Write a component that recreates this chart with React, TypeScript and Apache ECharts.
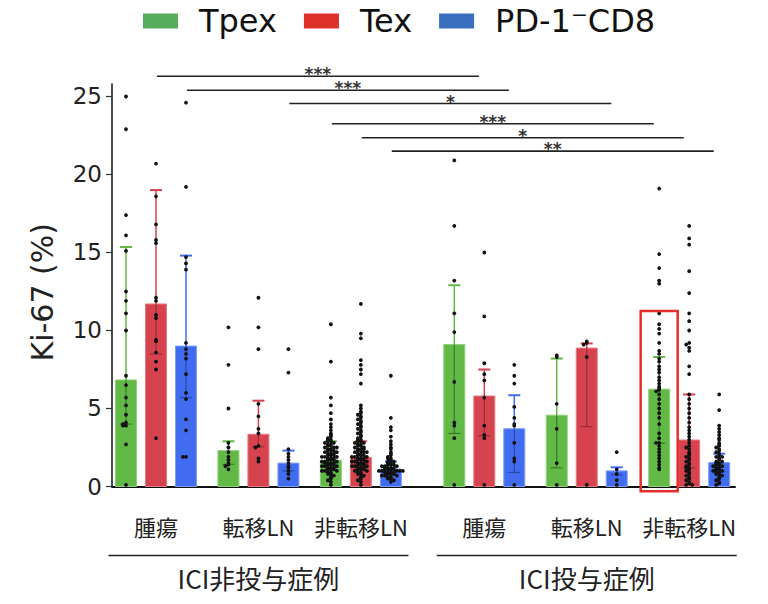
import React, { useEffect, useRef } from 'react';
import * as echarts from 'echarts';

// ---------- data ----------
const groupNames = ['腫瘍', '転移LN', '非転移LN', '腫瘍', '転移LN', '非転移LN'];
const sideNames = ['ICI非投与症例', 'ICI投与症例'];
const seriesNames = ['Tpex', 'Tex', 'PD-1⁻CD8'];
const yTicks = [0, 5, 10, 15, 20, 25];

const tpexMean = [6.83, 2.3, 1.68, 9.1, 4.57, 6.24];
const tpexLow = [4.0, 1.42, 1.1, 3.4, 1.2, 2.77];
const tpexHigh = [15.35, 2.9, 2.9, 12.9, 8.2, 8.3];

const texMean = [11.7, 3.35, 1.87, 5.8, 8.87, 2.98];
const texLow = [8.5, 2.55, 1.2, 3.26, 3.84, 1.2];
const texHigh = [19.0, 5.5, 2.9, 7.5, 9.17, 5.9];

const pdMean = [9.0, 1.5, 1.12, 3.7, 1.0, 1.53];
const pdLow = [5.7, 1.0, 0.8, 0.9, 0.75, 0.95];
const pdHigh = [14.8, 2.3, 1.6, 5.85, 1.23, 2.1];

const tpexDots = [
  [25.0, 22.9, 17.4, 16.1, 15.1, 12.5, 11.9, 11.1, 10.0, 7.1, 6.5, 5.7, 5.2, 4.6, 4.1, 4.0, 3.9, 3.9, 2.7, 0.1],
  [10.2, 7.8, 5.0, 2.8, 2.5, 2.2, 1.9, 1.7, 1.5, 1.4, 1.3, 1.1],
  [10.4, 8.0, 5.7, 5.2, 4.7, 4.3, 4.0, 3.8, 3.6, 3.4, 3.3, 3.2, 3.1, 3.0, 3.0, 2.9, 2.9, 2.8, 2.8, 2.7, 2.7, 2.6, 2.6,
    2.5, 2.5, 2.5, 2.4, 2.4, 2.3, 2.3, 2.3, 2.2, 2.2, 2.1, 2.1, 2.1, 2.0, 2.0, 2.0, 1.9, 1.9, 1.9, 1.8, 1.8, 1.8,
    1.7, 1.7, 1.7, 1.6, 1.6, 1.6, 1.5, 1.5, 1.5, 1.5, 1.4, 1.4, 1.4, 1.3, 1.3, 1.3, 1.2, 1.2, 1.2, 1.1, 1.1, 1.1,
    1.0, 1.0, 1.0, 0.9, 0.9, 0.8, 0.8, 0.7, 0.6, 0.5, 0.4, 0.3, 0.1],
  [20.9, 16.7, 13.2, 11.1, 9.9, 6.7, 4.1, 3.9, 3.1, 0.1],
  [8.4, 8.3, 5.3, 3.7, 1.5, 0.1],
  [19.1, 14.9, 14.0, 13.2, 13.0, 11.1, 10.4, 10.1, 9.8, 9.2, 8.7, 8.5, 8.2, 8.0, 7.7, 7.5, 7.3, 7.0, 6.8, 6.6, 6.4,
    6.3, 6.2, 6.1, 5.9, 5.6, 5.3, 5.0, 4.7, 4.4, 4.0, 3.4, 3.1, 2.8, 2.8, 2.6, 2.4, 2.2, 2.0, 1.8, 1.6, 1.4, 1.2, 1.1],
];

const texDots = [
  [20.7, 18.6, 16.8, 15.8, 15.6, 12.1, 11.9, 11.0, 10.8, 9.4, 9.3, 8.6, 8.0, 7.5, 3.1],
  [12.1, 10.2, 8.8, 5.3, 4.5, 3.7, 3.4, 2.6, 2.5, 1.8, 1.6],
  [11.7, 9.8, 9.5, 8.1, 7.8, 7.5, 7.2, 6.6, 5.2, 5.0, 4.8, 4.7, 4.6, 4.5, 4.4, 4.3, 4.2, 4.1, 4.0, 3.9, 3.8, 3.7,
    3.6, 3.5, 3.4, 3.3, 3.2, 3.1, 3.0, 3.0, 2.9, 2.9, 2.8, 2.8, 2.7, 2.7, 2.6, 2.6, 2.5, 2.5, 2.4, 2.4, 2.4, 2.3,
    2.3, 2.2, 2.2, 2.2, 2.1, 2.1, 2.0, 2.0, 2.0, 1.9, 1.9, 1.9, 1.8, 1.8, 1.8, 1.7, 1.7, 1.7, 1.6, 1.6, 1.6, 1.5,
    1.5, 1.5, 1.4, 1.4, 1.4, 1.3, 1.3, 1.3, 1.2, 1.2, 1.2, 1.1, 1.1, 1.1, 1.0, 1.0, 0.9, 0.9, 0.8, 0.8, 0.7, 0.6,
    0.5, 0.4, 0.3, 0.1],
  [15.0, 10.9, 7.9, 7.2, 6.8, 5.7, 3.9, 3.3, 3.1, 0.1],
  [9.3, 9.2, 9.1, 8.3, 0.1],
  [16.7, 15.9, 15.5, 13.8, 12.4, 11.1, 10.6, 10.0, 9.2, 9.1, 8.9, 8.7, 7.7, 7.2, 5.9, 5.6, 5.3, 5.0, 4.7, 4.4, 4.1,
    3.8, 3.6, 3.4, 3.2, 3.0, 2.8, 2.6, 2.5, 2.4, 2.2, 2.1, 2.0, 1.9, 1.8, 1.7, 1.6, 1.5, 1.4, 1.3, 1.2, 1.2, 1.1,
    1.0, 0.9, 0.8, 0.7, 0.6, 0.5, 0.4, 0.3, 0.2, 0.1, 0.1],
];

const pdDots = [
  [24.6, 19.2, 14.7, 14.3, 13.9, 9.2, 8.8, 8.5, 8.2, 7.2, 6.0, 5.6, 4.3, 3.6, 1.9, 1.9],
  [8.8, 7.3, 2.4, 2.1, 1.9, 1.7, 1.5, 1.3, 1.2, 1.0, 0.8, 0.5],
  [7.1, 4.4, 3.8, 3.6, 3.2, 2.9, 2.7, 2.5, 2.4, 2.2, 2.1, 2.0, 1.9, 1.8, 1.8, 1.7, 1.6, 1.6, 1.5, 1.5, 1.4, 1.4,
    1.4, 1.3, 1.3, 1.3, 1.2, 1.2, 1.2, 1.2, 1.1, 1.1, 1.1, 1.1, 1.0, 1.0, 1.0, 1.0, 1.0, 0.9, 0.9, 0.9, 0.9, 0.8,
    0.8, 0.8, 0.7, 0.7, 0.7, 0.6, 0.6, 0.5, 0.5, 0.4, 0.3],
  [7.8, 7.1, 6.6, 5.1, 4.4, 4.0, 3.9, 2.8, 1.8, 1.6, 0.1],
  [2.2, 1.1, 0.8, 0.4, 0.1],
  [5.9, 4.9, 3.9, 3.7, 3.5, 3.3, 3.1, 3.0, 2.8, 2.7, 2.6, 2.5, 2.4, 2.3, 2.2, 2.1, 2.0, 1.9, 1.9, 1.8, 1.7, 1.6,
    1.6, 1.5, 1.5, 1.4, 1.4, 1.3, 1.3, 1.2, 1.2, 1.1, 1.1, 1.0, 1.0, 0.9, 0.9, 0.8, 0.8, 0.7, 0.6, 0.5, 0.4, 0.3,
    0.2, 0.1],
];

// significance brackets: [seriesIndex, fromGroup, toGroup]
const sigPairs = [[1, 0, 3], [2, 0, 3], [2, 1, 4], [0, 2, 5], [1, 2, 5], [2, 2, 5]];
const sigLevels = [26.3, 25.4, 24.55, 23.25, 22.35, 21.5];
const sigLabels = ['***', '***', '*', '***', '*', '**'];

// highlighted bar [seriesIndex, group] and its box range
const highlightBar = [0, 5];
const highlightRange = [-0.3, 11.25];

// ---------- layout / style ----------
const X0 = 0.467;
const BAR_STEP = 1;
const GROUP_STEP = 3.415;
const SIDE_GAP = 0.7;
const X_MAX = 20.77;
const Y_MAX = 25.8;
const barX = (g: number, s: number) => X0 + g * GROUP_STEP + (g >= 3 ? SIDE_GAP : 0) + s * BAR_STEP;

const barColors = ['#62b946', '#d6434f', '#426cf0'];
const darkColors = ['#2f6d25', '#8d2631', '#243f96'];
const edgeColors = ['#8fd07c', '#e67a83', '#7f9ef5'];
const legendColors = ['#58ad5d', '#e0302a', '#3a6fc0'];
const LATIN = 'DejaVu Sans';
const CJK = 'Noto Sans CJK JP';

const means = [tpexMean, texMean, pdMean];
const lows = [tpexLow, texLow, pdLow];
const highs = [tpexHigh, texHigh, pdHigh];
const dotSets = [tpexDots, texDots, pdDots];

function buildOption() {
  const barSeries = seriesNames.map((name, s) => ({
    type: 'custom',
    name,
    z: 2,
    clip: false,
    itemStyle: { color: legendColors[s] },
    data: groupNames.map((_, g) => [barX(g, s), means[s][g], lows[s][g], highs[s][g]]),
    renderItem: (params: any, api: any) => {
      const x = api.value(0);
      const pTop = api.coord([x, api.value(1)]);
      const pBase = api.coord([x, 0]);
      const pLo = api.coord([x, api.value(2)]);
      const pHi = api.coord([x, api.value(3)]);
      const w = 21;
      const cx = pTop[0];
      return {
        type: 'group',
        children: [
          { type: 'rect', shape: { x: cx - w / 2, y: pTop[1], width: w, height: pBase[1] - pTop[1] },
            style: { fill: barColors[s], stroke: edgeColors[s], lineWidth: 1 } },
          { type: 'line', shape: { x1: cx, y1: pLo[1], x2: cx, y2: pTop[1] },
            style: { stroke: darkColors[s], lineWidth: 1.2, opacity: 0.8 } },
          { type: 'line', shape: { x1: cx - 6, y1: pLo[1], x2: cx + 6, y2: pLo[1] },
            style: { stroke: darkColors[s], lineWidth: 1.2, opacity: 0.8 } },
          { type: 'line', shape: { x1: cx, y1: pTop[1], x2: cx, y2: pHi[1] },
            style: { stroke: barColors[s], lineWidth: 1.5 } },
          { type: 'line', shape: { x1: cx - 6, y1: pHi[1], x2: cx + 6, y2: pHi[1] },
            style: { stroke: barColors[s], lineWidth: 2 } },
        ],
      };
    },
  }));

  const dotData: number[][] = [];
  dotSets.forEach((sets, s) =>
    sets.forEach((vals, g) => {
      const counts: Record<number, number> = {};
      vals.slice().sort((a, b) => b - a).forEach((v) => {
        const bin = Math.round(v / 0.15);
        const k = counts[bin] || 0;
        counts[bin] = k + 1;
        const off = k === 0 ? 0 : k % 2 === 1 ? -(k + 1) / 2 : k / 2;
        dotData.push([barX(g, s), v, off]);
      });
    })
  );

  const dotSeries = {
    type: 'custom',
    name: 'dots',
    z: 4,
    clip: false,
    data: dotData,
    renderItem: (params: any, api: any) => {
      const p = api.coord([api.value(0), api.value(1)]);
      return { type: 'circle', shape: { cx: p[0] + api.value(2) * 3, cy: p[1], r: 1.9 }, style: { fill: '#111' } };
    },
  };

  const bracketSeries = {
    type: 'custom',
    name: 'sig',
    z: 5,
    clip: false,
    data: sigPairs.map(([s, a, b], i) => [barX(a, s) + 0.03, barX(b, s) - 0.18, sigLevels[i], i]),
    renderItem: (params: any, api: any) => {
      const p1 = api.coord([api.value(0), api.value(2)]);
      const p2 = api.coord([api.value(1), api.value(2)]);
      const idx = api.value(3);
      return {
        type: 'group',
        children: [
          { type: 'line', shape: { x1: p1[0], y1: p1[1], x2: p2[0], y2: p2[1] }, style: { stroke: '#222', lineWidth: 1.6 } },
          { type: 'text', x: (p1[0] + p2[0]) / 2, y: p1[1] - 2,
            style: { text: sigLabels[idx], fontSize: 17, fontWeight: 'bold', fontFamily: LATIN, fill: '#333', align: 'center', verticalAlign: 'middle' } },
        ],
      };
    },
  };

  const highlightSeries = {
    type: 'custom',
    name: 'highlight',
    z: 6,
    clip: false,
    data: [[barX(highlightBar[1], highlightBar[0]), highlightRange[0], highlightRange[1]]],
    renderItem: (params: any, api: any) => {
      const pLo = api.coord([api.value(0), api.value(1)]);
      const pHi = api.coord([api.value(0), api.value(2)]);
      return {
        type: 'rect',
        shape: { x: pHi[0] - 18.5, y: pHi[1], width: 37, height: pLo[1] - pHi[1] },
        style: { fill: 'none', stroke: '#e3302a', lineWidth: 2.5 },
      };
    },
  };

  const groupLabelSeries = {
    type: 'custom',
    name: 'groupLabels',
    clip: false,
    data: groupNames.map((_, g) => [barX(g, 1), 0, g]),
    renderItem: (params: any, api: any) => {
      const p = api.coord([api.value(0), 0]);
      return {
        type: 'text', x: p[0], y: p[1] + 39,
        style: { text: groupNames[api.value(2)], fontSize: 22, fontFamily: CJK, fill: '#222', align: 'center', verticalAlign: 'middle' },
      };
    },
  };

  const sideSeries = {
    type: 'custom',
    name: 'sides',
    clip: false,
    data: sideNames.map((_, i) => [(barX(i * 3, 1) + barX(i * 3 + 2, 1)) / 2, 0, i]),
    renderItem: (params: any, api: any) => {
      const pc = api.coord([api.value(0), 0]);
      const pl = api.coord([api.value(0) - 5, 0]);
      const pr = api.coord([api.value(0) + 5, 0]);
      return {
        type: 'group',
        children: [
          { type: 'line', shape: { x1: pl[0], y1: pc[1] + 69, x2: pr[0], y2: pc[1] + 69 }, style: { stroke: '#222', lineWidth: 1.6 } },
          { type: 'text', x: pc[0], y: pc[1] + 91,
            style: { text: sideNames[api.value(2)], fontSize: 26, fontFamily: CJK, fill: '#222', align: 'center', verticalAlign: 'middle' } },
        ],
      };
    },
  };

  return {
    animation: false,
    backgroundColor: '#fff',
    grid: { left: 112, right: 33, top: 84, bottom: 117.5, containLabel: false, outerBoundsMode: 'none' },
    legend: {
      left: 138,
      top: 0,
      itemWidth: 35,
      itemHeight: 15,
      itemGap: 27,
      icon: 'rect',
      data: seriesNames.map((name, s) => ({ name, itemStyle: { color: legendColors[s] } })),
      textStyle: { fontSize: 32, fontFamily: LATIN, color: '#111', padding: [0, 0, 0, 16] },
    },
    xAxis: {
      type: 'value',
      min: 0,
      max: X_MAX,
      axisLine: { show: true, onZero: false, lineStyle: { color: '#111', width: 2 } },
      axisTick: { show: false },
      axisLabel: { show: false },
      splitLine: { show: false },
    },
    yAxis: {
      type: 'value',
      min: 0,
      max: Y_MAX,
      interval: 5,
      name: 'Ki-67 (%)',
      nameLocation: 'middle',
      nameGap: 55,
      nameRotate: 90,
      nameTextStyle: { fontSize: 30, fontFamily: LATIN, color: '#222', padding: [0, 14, 0, 0] },
      axisLine: { show: true, lineStyle: { color: '#111', width: 1.5 } },
      axisTick: { show: true, length: 6, customValues: yTicks, lineStyle: { color: '#333', width: 1.2 } },
      axisLabel: { customValues: yTicks, fontSize: 23, fontFamily: LATIN, color: '#222', margin: 10 },
      splitLine: { show: false },
    },
    series: [...barSeries, dotSeries, bracketSeries, highlightSeries, groupLabelSeries, sideSeries],
  };
}

export default function App() {
  const ref = useRef<HTMLDivElement>(null);
  useEffect(() => {
    const chart = echarts.init(ref.current!, undefined, { renderer: 'svg' });
    chart.setOption(buildOption() as any);
    return () => chart.dispose();
  }, []);
  return (
    <div
      ref={ref}
      style={{ position: 'fixed', left: 0, top: 0, width: 768, height: 604, background: '#fff' }}
    />
  );
}
